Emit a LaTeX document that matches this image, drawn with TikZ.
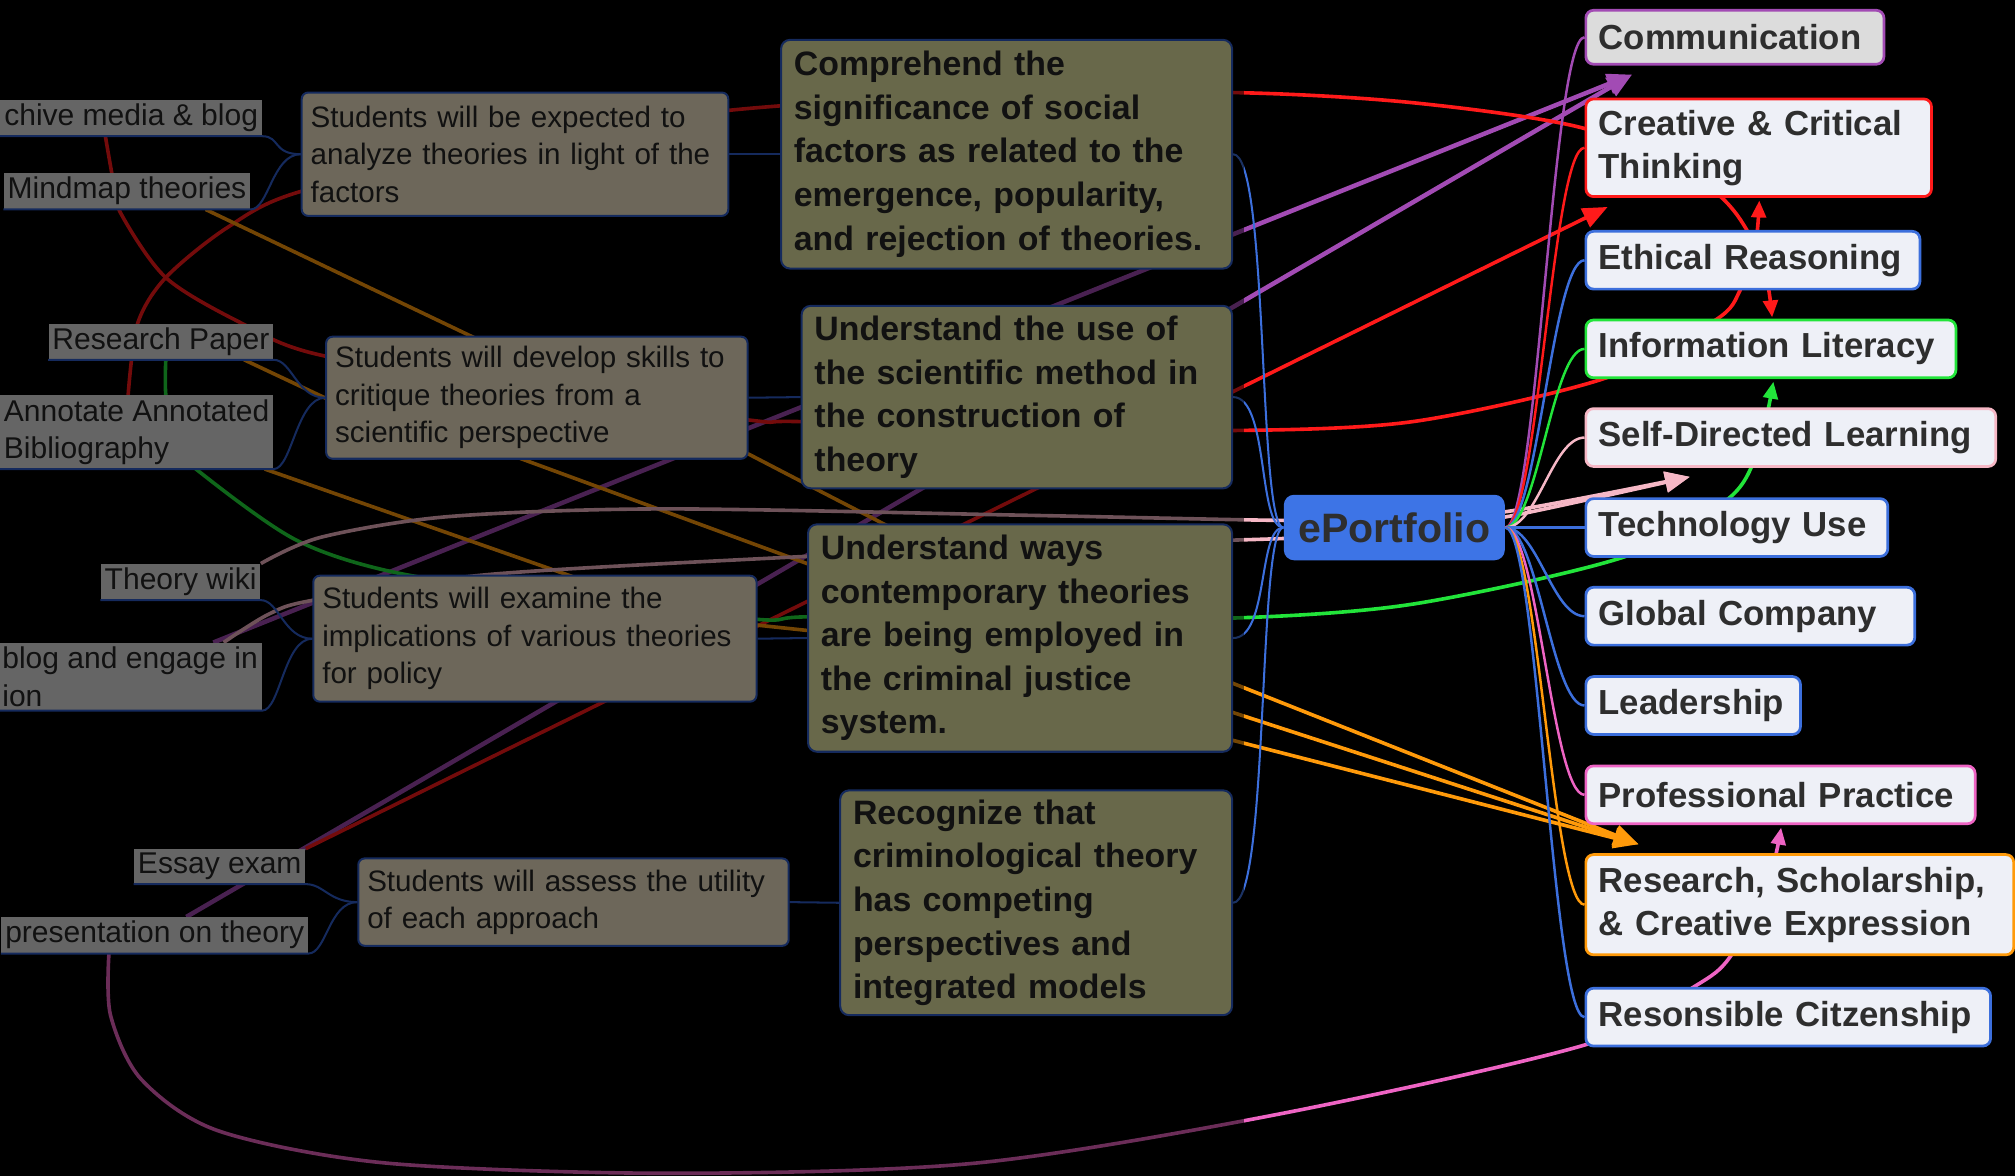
\documentclass[tikz,border=0pt]{standalone}
\usepackage{fontspec}
\setmainfont{Liberation Sans}
\usetikzlibrary{arrows.meta, calc, positioning}
\pgfdeclarelayer{back}
\pgfdeclarelayer{links}
\pgfdeclarelayer{shade}
\pgfsetlayers{back,links,main,shade}
\definecolor{cblue}{HTML}{3C6FDC}
\definecolor{cred}{HTML}{FF1A1A}
\definecolor{cgreen}{HTML}{22E43A}
\definecolor{cpurple}{HTML}{A24BB4}
\definecolor{cpinkl}{HTML}{F6B8C6}
\definecolor{cpink}{HTML}{EE64C4}
\definecolor{corange}{HTML}{FF9A0A}
\definecolor{rfill}{HTML}{EEF0F7}
\definecolor{gfill}{HTML}{DCDCDC}
\definecolor{epfill}{HTML}{3D74E6}
\definecolor{txt}{HTML}{2E2E2E}
\definecolor{lfill}{HTML}{E2E2E2}
\definecolor{ifill}{HTML}{F2E6C8}
\definecolor{mfill}{HTML}{E8E8A6}
\definecolor{bdark}{HTML}{2F5FCF}
\newcommand{\nohyph}{\hyphenpenalty=10000 \exhyphenpenalty=10000 }

\begin{document}
\begin{tikzpicture}[x=0.02cm,y=-0.02cm,
    rbox/.style={rectangle,rounded corners=0.12cm,fill=rfill,line width=1.2pt,inner xsep=0.2cm,inner ysep=0pt,anchor=west,align=left,text=txt,font=\fontsize{15.4}{19.2}\selectfont\bfseries,execute at begin node=\nohyph},
    midbox/.style={rectangle,rounded corners=0.14cm,fill=mfill,draw=bdark,line width=0.9pt,inner xsep=0.2cm,inner ysep=0pt,anchor=west,align=left,text=black!85,font=\fontsize{15}{19.3}\selectfont\bfseries,execute at begin node=\nohyph},
    inbox/.style={rectangle,rounded corners=0.1cm,fill=ifill,draw=bdark,line width=0.9pt,inner xsep=0.14cm,inner ysep=0pt,anchor=west,align=left,text=black!85,font=\fontsize{13.1}{16.6}\selectfont,execute at begin node=\nohyph},
    leaf/.style={rectangle,fill=lfill,inner xsep=0.06cm,inner ysep=0.06cm,anchor=south east,align=left,text=black!85,font=\fontsize{13.3}{16.6}\selectfont},
    tree/.style={draw=bdark,line width=0.9pt},
    link/.style={line width=1.6pt},
    big/.style={-{Triangle[length=11pt,width=9pt]}},
    small/.style={-{Triangle[length=7.5pt,width=6.5pt]}}]

    % 背景
    \begin{pgfonlayer}{back}
        \fill[black] (0,0) rectangle (1568,915);
    \end{pgfonlayer}
    \useasboundingbox (0,0) rectangle (1568,915);

    % 右侧能力框
    \node[rbox,fill=gfill,draw=cpurple,minimum width=4.64cm,text width=4.24cm,minimum height=0.84cm] (comm) at (1233,29) {Communication};
    \foreach \nm/\yy/\ww/\tw/\hh/\col/\lbl in {
        crit/115/5.38/4.98/1.52/cred/{Creative \& Critical\\Thinking},
        ethic/202.5/5.20/4.80/0.90/cblue/Ethical Reasoning,
        info/271.5/5.76/5.36/0.90/cgreen/Information Literacy,
        self/340.5/6.38/5.98/0.90/cpinkl/Self-Directed Learning,
        tech/410.5/4.70/4.30/0.90/cblue/Technology Use,
        glob/479.5/5.12/4.72/0.90/cblue/Global Company,
        lead/549/3.34/2.94/0.90/cblue/Leadership,
        prof/618.5/6.06/5.66/0.90/cpink/Professional Practice,
        res/704/6.66/6.26/1.56/corange/{Research, Scholarship,\\\& Creative Expression},
        resp/791.5/6.30/5.90/0.90/cblue/Resonsible Citzenship} {
        \node[rbox,draw=\col,minimum width=\ww cm,text width=\tw cm,minimum height=\hh cm] (\nm) at (1233,\yy) {\lbl};
    }

    % 中心
    \node[rectangle,rounded corners=0.16cm,fill=epfill,minimum width=3.44cm,minimum height=1.02cm,text=txt,font=\fontsize{18.2}{22}\selectfont\bfseries] (eport) at (1085,410.5) {ePortfolio};

    % 课程目标
    \node[midbox,minimum width=7.02cm,text width=6.62cm,minimum height=3.56cm] (mid1) at (607,120) {Comprehend the\\significance of social\\factors as related to the\\emergence, popularity,\\and rejection of theories.};
    \node[midbox,minimum width=6.70cm,text width=6.30cm,minimum height=2.84cm] (mid2) at (623,309) {Understand the use of\\the scientific method in\\the construction of\\theory};
    \node[midbox,minimum width=6.60cm,text width=6.20cm,minimum height=3.54cm] (mid3) at (628,496.5) {Understand ways\\contemporary theories\\are being employed in\\the criminal justice\\system.};
    \node[midbox,minimum width=6.10cm,text width=5.70cm,minimum height=3.50cm] (mid4) at (653,702.5) {Recognize that\\criminological theory\\has competing\\perspectives and\\integrated models};

    % 学生任务
    \node[inbox,minimum width=6.64cm,text width=6.36cm,minimum height=1.92cm] (in1) at (234,120) {Students will be expected to\\analyze theories in light of the\\factors};
    \node[inbox,minimum width=6.56cm,text width=6.28cm,minimum height=1.90cm] (in2) at (253,309.5) {Students will develop skills to\\critique theories from a\\scientific perspective};
    \node[inbox,minimum width=6.90cm,text width=6.62cm,minimum height=1.96cm] (in3) at (243,497) {Students will examine the\\implications of various theories\\for policy};
    \node[inbox,minimum width=6.70cm,text width=6.42cm,minimum height=1.36cm] (in4) at (278,702) {Students will assess the utility\\of each approach};

    % 作业
    \node[leaf,anchor=south west] (lf1) at (0,106) {chive media \& blog};
    \foreach \nm/\xx/\yy/\lbl in {
        lf2/195/163/Mindmap theories,
        lf3/213/280/Research Paper,
        lf4/213/365/{Annotate Annotated\\Bibliography},
        lf5/203/467/Theory wiki,
        lf6/204/553/{blog and engage in\\ion},
        lf7/238/688/Essay exam,
        lf8/240/742/presentation on theory} {
        \node[leaf] (\nm) at (\xx,\yy) {\lbl};
    }

    % 树的连线
    \foreach \a/\b in {in1/lf1,in1/lf2,in2/lf3,in2/lf4,in3/lf5,in3/lf6,in4/lf7,in4/lf8} {
        \draw[tree] (\a.west) .. controls +(-22,0) and +(14,0) .. (\b.south east) -- (\b.south west);
    }
    \foreach \k in {1,...,4} {
        \draw[tree] (in\k.east) -- (mid\k.west);
        \draw[tree,cblue] (mid\k.east) .. controls +(28,0) and +(-20,0) .. (eport.west);
    }
    \foreach \b/\col in {comm/cpurple,crit/cred,ethic/cblue,info/cgreen,self/cpinkl,tech/cblue,glob/cblue,lead/cblue,prof/cpink,res/corange,resp/cblue} {
        \draw[draw=\col,line width=1.1pt] (eport.east) .. controls +(25,0) and +(-25,0) .. (\b.west);
    }

    % 交叉连线的起点和箭头位置
    \coordinate (sP1) at ($(lf6.north east)+(-38,0)$);
    \coordinate (sP2) at ($(lf8.north east)+(-95,0)$);
    \coordinate (sA) at ($(lf4.north west)+(100,0)$);
    \coordinate (sC) at ($(lf1.south west)+(82,0)$);
    \coordinate (sG) at ($(lf3.south east)+(-84,0)$);
    \coordinate (sO1) at ($(lf2.south east)+(-35,0)$);
    \coordinate (sO2) at ($(lf3.south east)+(-23,0)$);
    \coordinate (sO3) at ($(lf4.south east)+(-7,0)$);
    \coordinate (sK2) at ($(lf6.north east)+(-30,0)$);
    \coordinate (sM) at ($(lf8.south west)+(84,0)$);
    \coordinate (commtip) at ($(comm.south west)+(37,7)$);
    \coordinate (crittip) at ($(crit.south west)+(18,7)$);
    \coordinate (critup) at ($(crit.south west)+(136,2)$);
    \coordinate (infodown) at ($(info.north west)+(146,-1)$);
    \coordinate (infoup) at ($(info.south west)+(147,2)$);
    \coordinate (selftip) at ($(self.south west)+(82,7)$);
    \coordinate (restip) at ($(res.north west)+(42,-7)$);
    \coordinate (profup) at ($(prof.south west)+(153,2)$);

    % 交叉连线
    \begin{pgfonlayer}{links}
        \draw[link,cpurple,big,line width=2pt] (sP1) -- (commtip);
        \draw[link,cpurple,big,line width=2pt] (sP2) -- (commtip);
        \draw[link,cred,big] (lf7.north east) -- (crittip);
        \draw[link,cred,small] plot[smooth] coordinates {(sA) (107,252) (129,216) (177,177) (234,149) (400,112) (566,86) (760,74) (958,72) (1100,80) (1233,100) (1320,140) (1350,165) (1372,205) (infodown)};
        \draw[link,cred,small] plot[smooth] coordinates {(sC) (88,140) (94,166) (129,216) (187,251) (248,276) (420,305) (584,327) (619,328) (800,331) (958,335) (1100,328) (1250,294) (1335,249) (1354,226) (1366,190) (critup)};
        \draw[link,cgreen,small] plot[smooth] coordinates {(sG) (129,307) (135,345) (155,367) (230,420) (310,446) (450,466) (590,482) (629,480) (800,480) (958,481) (1100,470) (1265,433) (1345,388) (1368,350) (infoup)};
        \draw[link,corange,big] (sO1) -- (380,268) -- (392,352) -- (632,440) -- (955,530) -- (restip);
        \draw[link,corange,big] (sO2) -- (258,312) -- (578,351) -- (630,378) -- (696,412) -- (955,553) -- (restip);
        \draw[link,corange,big] (sO3) -- (455,452) -- (585,486) -- (632,491) -- (955,575) -- (restip);
        \draw[link,cpinkl,big] plot[smooth] coordinates {(lf5.north east) (250,418) (349,402) (516,396) (800,401) (1000,405) (1085,404) (1173,398) (selftip)};
        \draw[link,cpinkl,big] plot[smooth] coordinates {(sK2) (209,478) (244,467) (381,447) (626,433) (800,425) (1000,419) (1085,414) (1173,402) (selftip)};
        \draw[link,cpink,small] plot[smooth] coordinates {(sM) (86,790) (110,840) (170,880) (300,905) (520,913) (760,905) (1000,866) (1237,812) (1318,768) (1346,745) (1375,690) (profup)};
    \end{pgfonlayer}

    % 左侧变暗
    \begin{pgfonlayer}{shade}
        \fill[black,fill opacity=0.55] (0,0) rectangle (968,915);
    \end{pgfonlayer}
\end{tikzpicture}
\end{document}
